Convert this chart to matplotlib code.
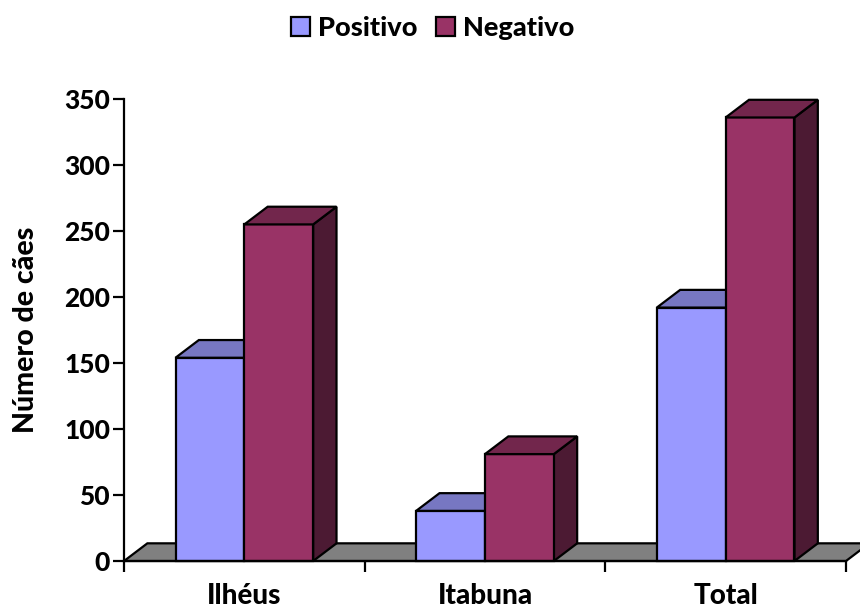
import matplotlib
matplotlib.use("Agg")
import matplotlib.pyplot as plt
from matplotlib.patches import Polygon, Patch

categories = ["Ilhéus", "Itabuna", "Total"]
positivo = [154, 38, 192]
negativo = [255, 81, 336]
series_names = ["Positivo", "Negativo"]
y_ticks = [0, 50, 100, 150, 200, 250, 300, 350]

plt.rcParams["font.family"] = ["Lato", "DejaVu Sans"]
W = "black"

# face colours: front, top, side
pos_cols = ("#9999FF", "#7777C2", "#5C5C99")
neg_cols = ("#993366", "#72264C", "#4C1A33")

fig = plt.figure(figsize=(8.6, 6.1), dpi=100)
ax = fig.add_axes([0.1442, 0.0803, 0.8395, 0.7574])
ax.set_xlim(0, len(categories))
ax.set_ylim(0, 350)

bar_w = 0.286
dx = 0.097   # depth offset along x (category units)
dy = 13.4    # depth offset along y (value units)
lw = 1.6


def box(x0, x1, h, cols, z):
    front = [(x0, 0), (x1, 0), (x1, h), (x0, h)]
    top = [(x0, h), (x1, h), (x1 + dx, h + dy), (x0 + dx, h + dy)]
    side = [(x1, 0), (x1 + dx, dy), (x1 + dx, h + dy), (x1, h)]
    for pts, c in ((side, cols[2]), (front, cols[0]), (top, cols[1])):
        ax.add_patch(Polygon(pts, closed=True, facecolor=c, edgecolor="black",
                             linewidth=lw, joinstyle="miter", clip_on=False,
                             zorder=z))


# floor
n = len(categories)
floor = [(0, 0), (n, 0), (n + dx, dy), (dx, dy)]
ax.add_patch(Polygon(floor, closed=True, facecolor="#808080", edgecolor="black",
                     linewidth=lw, clip_on=False, zorder=1))

for i in range(n):
    c = i + 0.5
    box(c - bar_w, c, positivo[i], pos_cols, 2 + 2 * i)
    box(c, c + bar_w, negativo[i], neg_cols, 3 + 2 * i)

for s in ("top", "right", "bottom"):
    ax.spines[s].set_visible(False)
ax.spines["left"].set_linewidth(lw)
ax.spines["left"].set_zorder(20)

ax.set_yticks(y_ticks)
ax.set_yticklabels([str(v) for v in y_ticks], fontweight=W)
ax.tick_params(axis="y", direction="out", length=8, width=lw, labelsize=19, pad=2)

ax.set_xticks(range(n + 1))
ax.set_xticklabels([""] * (n + 1))
ax.tick_params(axis="x", which="major", direction="out", length=8, width=lw)
ax.set_xticks([i + 0.5 for i in range(n)], minor=True)
ax.set_xticklabels(categories, minor=True, fontweight=W)
ax.tick_params(axis="x", which="minor", length=0, labelsize=20, pad=16)
ax.axhline(0, color="black", linewidth=lw, zorder=20, clip_on=False)

ax.set_ylabel("Número de cães", fontsize=20.5, fontweight=W, labelpad=18)

handles = [Patch(facecolor=pos_cols[0], edgecolor="black", linewidth=lw),
           Patch(facecolor=neg_cols[0], edgecolor="black", linewidth=lw)]
fig.legend(handles, series_names, loc="upper center", bbox_to_anchor=(0.503, 1.013),
           ncol=2, frameon=False, handlelength=0.7, handleheight=0.7,
           handletextpad=0.3, columnspacing=0.7,
           prop={"weight": W, "size": 19.5, "family": ["Lato", "DejaVu Sans"]})

fig.savefig("out.png", dpi=100, facecolor="white")
